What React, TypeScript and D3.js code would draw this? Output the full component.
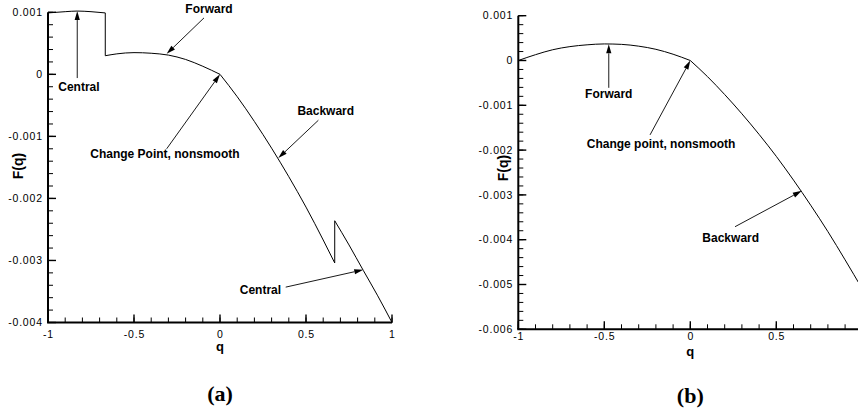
import React from 'react';
import * as d3 from 'd3';

// values (q, F(q))
const qCentralLeftA = [-1, -0.9, -0.83, -0.75, -0.667];
const fCentralLeftA = [0.00099, 0.00101, 0.00102, 0.00101, 0.00099];
const qForwardA = [-0.667, -0.6, -0.5, -0.4, -0.3, -0.2, -0.1, 0];
const fForwardA = [0.0003, 0.00033, 0.00035, 0.00034, 0.00031, 0.00024, 0.00013, 0];
const qBackwardA = [0, 0.1, 0.2, 0.3, 0.4, 0.5, 0.6, 0.667];
const fBackwardA = [0, -0.00036, -0.00076, -0.00119, -0.00165, -0.00214, -0.00267, -0.00304];
const qCentralRightA = [0.667, 0.75, 0.833, 0.917, 1];
const fCentralRightA = [-0.00236, -0.00275, -0.00316, -0.00357, -0.004];

const qForwardB = [-1, -0.9, -0.8, -0.7, -0.6, -0.5, -0.4, -0.3, -0.2, -0.1, 0];
const fForwardB = [0, 0.00013, 0.00024, 0.00031, 0.00035, 0.00037, 0.00036, 0.00032, 0.00025, 0.00014, 0];
const qBackwardB = [0, 0.1, 0.2, 0.3, 0.4, 0.5, 0.6, 0.7, 0.8, 0.9, 1];
const fBackwardB = [0, -0.00036, -0.00076, -0.00119, -0.00165, -0.00214, -0.00267, -0.00323, -0.00382, -0.00445, -0.0051];

const xTickLabels = ['-1', '-0.5', '0', '0.5', '1'];

type Note = { text: string; lq: number; lf: number; tq: number; tf: number; hq: number; hf: number };

// annotation positions in data units (label centre, arrow tail, arrow head)
const notesA: Note[] = [
  { text: 'Central', lq: -0.82, lf: -0.0002, tq: -0.83, tf: -0.00006, hq: -0.83, hf: 0.00102 },
  { text: 'Forward', lq: -0.064, lf: 0.00105, tq: -0.093, tf: 0.00091, hq: -0.31, hf: 0.00033 },
  { text: 'Change Point, nonsmooth', lq: -0.32, lf: -0.00128, tq: -0.31, tf: -0.0012, hq: 0, hf: 0 },
  { text: 'Backward', lq: 0.615, lf: -0.00059, tq: 0.572, tf: -0.00074, hq: 0.339, hf: -0.00135 },
  { text: 'Central', lq: 0.235, lf: -0.00348, tq: 0.382, tf: -0.00343, hq: 0.833, hf: -0.00315 },
];

const notesB: Note[] = [
  { text: 'Forward', lq: -0.474, lf: -0.00075, tq: -0.474, tf: -0.00061, hq: -0.474, hf: 0.00036 },
  { text: 'Change point, nonsmooth', lq: -0.17, lf: -0.00187, tq: -0.234, tf: -0.00166, hq: 0, hf: 0 },
  { text: 'Backward', lq: 0.235, lf: -0.00395, tq: 0.26, tf: -0.00371, hq: 0.648, hf: -0.00291 },
];

const zip = (q: number[], f: number[]) => q.map((v, i) => [v, f[i]] as [number, number]);

const SANS = '"Liberation Sans", Arial, Helvetica, sans-serif';
const W = 858;

function Panel(props: any) {
  const { x0, x1, yTop, yBot, fMin, fMax, segs, notes, xLabOff, fLabX, fLabY, qLabY, tag, tagY } = props;
  const x = d3.scaleLinear().domain([-1, 1]).range([x0, x1]);
  const y = d3.scaleLinear().domain([fMin, fMax]).range([yBot, yTop]);
  const line = d3.line<[number, number]>().x(d => x(d[0])).y(d => y(d[1])).curve(d3.curveMonotoneX);
  const pathD = segs.map((s: [number, number][], i: number) => {
    const p = line(s) || '';
    return i === 0 ? p : 'L' + p.slice(1);
  }).join('');

  const lo = Math.round(fMin * 1000), hi = Math.round(fMax * 1000);
  const yMajor = d3.range(lo, hi + 1).map(v => v / 1000);
  const yMinor = d3.range(lo * 5, hi * 5 + 1).map(v => v / 5000);
  const xMajor = d3.range(-2, 3).map(v => v / 2);
  const xMinor = d3.range(-10, 11).map(v => v / 10);
  const fmtY = (v: number) => (Math.abs(v) < 1e-12 ? '0' : v.toFixed(3));

  return (
    <g>
      <path d={pathD} fill="none" stroke="#000" strokeWidth={1} />
      {notes.map((n: Note, i: number) => {
        const tx = x(n.tq), ty = y(n.tf), hx = x(n.hq), hy = y(n.hf);
        const ang = Math.atan2(hy - ty, hx - tx);
        const L = 9, HW = 2.6;
        const bx = hx - L * Math.cos(ang), by = hy - L * Math.sin(ang);
        const px = -Math.sin(ang) * HW, py = Math.cos(ang) * HW;
        return (
          <g key={i}>
            <line x1={tx} y1={ty} x2={bx} y2={by} stroke="#000" strokeWidth={0.9} />
            <polygon points={`${hx},${hy} ${bx + px},${by + py} ${bx - px},${by - py}`} fill="#000" />
            <text x={x(n.lq)} y={y(n.lf)} dy="0.35em" textAnchor="middle" fontFamily={SANS}
              fontWeight="bold" fontSize={12}>{n.text}</text>
          </g>
        );
      })}
      {/* axes */}
      <line x1={x0} x2={x0} y1={y(fMax)} y2={yBot} stroke="#000" strokeWidth={2} />
      <line x1={x0 - 1} x2={x1} y1={yBot} y2={yBot} stroke="#000" strokeWidth={2} />
      {yMinor.map((v, i) => (
        <line key={'ym' + i} x1={x0} x2={x0 + 5} y1={y(v)} y2={y(v)} stroke="#000" strokeWidth={1} />
      ))}
      {yMajor.map((v, i) => (
        <g key={'yM' + i}>
          <line x1={x0} x2={x0 + 8} y1={y(v)} y2={y(v)} stroke="#000" strokeWidth={1.4} />
          <text x={x0 - 5.2} y={y(v)} dy="0.35em" textAnchor="end" fontFamily={SANS} fontSize={10.5}
            letterSpacing={0.8}>{fmtY(v)}</text>
        </g>
      ))}
      {xMinor.map((v, i) => (
        <line key={'xm' + i} x1={x(v)} x2={x(v)} y1={yBot} y2={yBot - 5} stroke="#000" strokeWidth={1} />
      ))}
      {xMajor.map((v, i) => (
        <g key={'xM' + i}>
          <line x1={x(v)} x2={x(v)} y1={yBot} y2={yBot - 8} stroke="#000" strokeWidth={1.4} />
          {x(v) + 4 < W && (
            <text x={x(v) + 0.4} y={yBot + xLabOff} dy="0.35em" textAnchor="middle" fontFamily={SANS}
              fontSize={10.5} letterSpacing={0.8}>{xTickLabels[i]}</text>
          )}
        </g>
      ))}
      <text x={x(0)} y={qLabY} dy="0.35em" textAnchor="middle" fontFamily={SANS} fontWeight="bold" fontSize={13}>q</text>
      <text transform={`translate(${fLabX},${fLabY}) rotate(-90)`} dy="0.35em" textAnchor="middle"
        fontFamily={SANS} fontWeight="bold" fontSize={14}>F(q)</text>
      <text x={x(0)} y={tagY} dy="0.35em" textAnchor="middle" fontFamily='"Liberation Serif", "Times New Roman", serif'
        fontWeight="bold" fontSize={22}>{tag}</text>
    </g>
  );
}

export default function App() {
  const segsA = [
    zip(qCentralLeftA, fCentralLeftA),
    zip(qForwardA, fForwardA),
    zip(qBackwardA, fBackwardA),
    zip(qCentralRightA, fCentralRightA),
  ];
  const segsB = [zip(qForwardB, fForwardB), zip(qBackwardB, fBackwardB)];
  return (
    <svg width={W} height={413} style={{ position: 'absolute', left: 0, top: 0, background: '#fff' }}>
      <Panel x0={48} x1={392} yTop={12.3} yBot={322.5} fMin={-0.004} fMax={0.001} segs={segsA} notes={notesA}
        xLabOff={11.5} fLabX={18} fLabY={166} qLabY={346} tag="(a)" tagY={393} />
      <Panel x0={518.3} x1={862.3} yTop={15.7} yBot={329.3} fMin={-0.006} fMax={0.001} segs={segsB} notes={notesB}
        xLabOff={7.5} fLabX={503} fLabY={168} qLabY={351.5} tag="(b)" tagY={395} />
    </svg>
  );
}
